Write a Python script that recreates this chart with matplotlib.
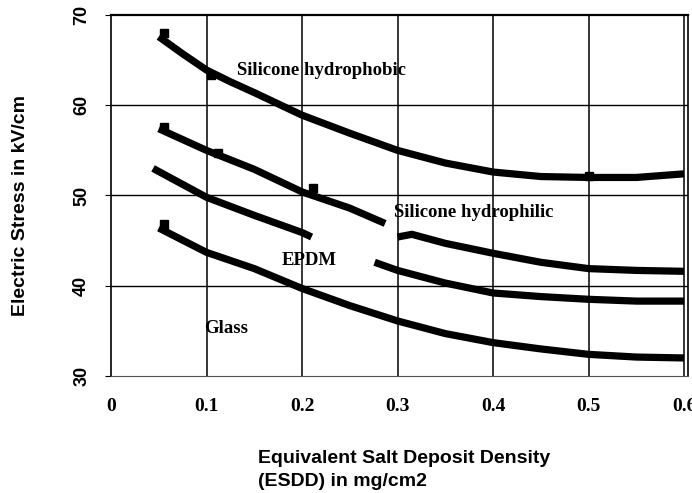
import matplotlib
matplotlib.use("Agg")
import matplotlib.pyplot as plt

# ESDD (mg/cm2) vs electric stress (kV/cm)
hydrophobic_x = [0.05, 0.075, 0.1, 0.125, 0.15, 0.2, 0.25, 0.3, 0.35, 0.4, 0.45, 0.5, 0.55, 0.6]
hydrophobic_y = [67.6, 65.7, 63.9, 62.6, 61.4, 58.9, 56.9, 55.0, 53.6, 52.6, 52.1, 52.0, 52.0, 52.4]

hydrophilic_x1 = [0.05, 0.1, 0.15, 0.2, 0.25, 0.287]
hydrophilic_y1 = [57.4, 55.0, 52.9, 50.4, 48.6, 46.9]
hydrophilic_x2 = [0.3, 0.315, 0.35, 0.4, 0.45, 0.5, 0.55, 0.6]
hydrophilic_y2 = [45.4, 45.7, 44.7, 43.6, 42.6, 41.9, 41.7, 41.6]

epdm_x1 = [0.044, 0.1, 0.15, 0.2, 0.21]
epdm_y1 = [53.0, 49.8, 47.8, 45.9, 45.4]
epdm_x2 = [0.276, 0.3, 0.35, 0.4, 0.45, 0.5, 0.55, 0.6]
epdm_y2 = [42.6, 41.7, 40.3, 39.2, 38.8, 38.5, 38.3, 38.3]

glass_x = [0.05, 0.1, 0.15, 0.2, 0.25, 0.3, 0.35, 0.4, 0.45, 0.5, 0.55, 0.6]
glass_y = [46.4, 43.7, 41.9, 39.7, 37.8, 36.1, 34.7, 33.7, 33.0, 32.4, 32.1, 32.0]

# little square data markers sitting on the curves
marker_x = [0.055, 0.105, 0.055, 0.112, 0.212, 0.055, 0.5]
marker_y = [68.0, 63.3, 57.6, 54.7, 50.8, 46.8, 52.2]

xticks = [0, 0.1, 0.2, 0.3, 0.4, 0.5, 0.6]
xtick_labels = ["0", "0.1", "0.2", "0.3", "0.4", "0.5", "0.6"]
yticks = [30, 40, 50, 60, 70]

fig = plt.figure(figsize=(6.92, 4.93), dpi=100)
ax = fig.add_axes([0.1604, 0.2373, 0.834, 0.7323])

serif = "Liberation Serif"
sans = "Liberation Sans"

# grid
for x in xticks[1:]:
    ax.axvline(x, color="black", lw=1.1, zorder=1)
for y in [40, 50, 60]:
    ax.axhline(y, color="black", lw=1.0, zorder=1)

lw = 5.2
for xs, ys in [(hydrophobic_x, hydrophobic_y),
               (hydrophilic_x1, hydrophilic_y1),
               (hydrophilic_x2, hydrophilic_y2),
               (epdm_x1, epdm_y1),
               (epdm_x2, epdm_y2),
               (glass_x, glass_y)]:
    ax.plot(xs, ys, color="black", lw=lw, solid_capstyle="butt",
            solid_joinstyle="round", zorder=3)
ax.plot(marker_x, marker_y, "s", color="black", ms=6, zorder=3)

ax.set_xlim(0, 0.6042)
ax.set_ylim(30, 70)

for s in ax.spines.values():
    s.set_linewidth(1.2)
ax.spines["top"].set_linewidth(1.6)
ax.spines["bottom"].set_color("#555555")
ax.spines["bottom"].set_linewidth(0.8)

ax.set_xticks(xticks)
ax.set_xticklabels(xtick_labels, fontfamily=serif, fontweight="bold", fontsize=14)
ax.set_yticks(yticks)
ax.set_yticklabels([str(v) for v in yticks], fontfamily=sans, fontweight="bold",
                   fontsize=13, rotation=90, va="center")
ax.tick_params(axis="x", length=0, pad=16)
ax.tick_params(axis="y", length=4, pad=11, direction="out")

# curve labels
kw = dict(fontfamily=serif, fontweight="bold", fontsize=13.5, zorder=4)
ax.text(0.132, 63.4, "Silicone hydrophobic", **kw)
ax.text(0.296, 47.6, "Silicone hydrophilic", **kw)
ax.text(0.179, 42.3, "EPDM", **kw)
ax.text(0.098, 34.8, "Glass", **kw)

fig.text(0.03, 0.584, "Electric Stress in kV/cm", rotation=90, va="center", ha="center",
         fontfamily=sans, fontweight="bold", fontsize=14)
fig.text(0.373, 0.006, "Equivalent Salt Deposit Density\n(ESDD) in mg/cm2", ha="left",
         va="bottom", fontfamily=sans, fontweight="bold", fontsize=14, linespacing=1.45)

fig.savefig("out.png", dpi=100)
